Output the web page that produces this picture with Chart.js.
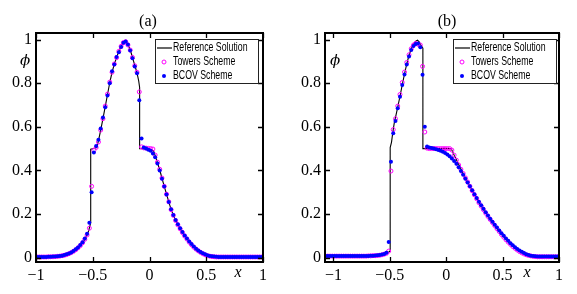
<!DOCTYPE html>
<html><head><meta charset="utf-8">
<script src="https://cdn.jsdelivr.net/npm/chart.js@4/dist/chart.umd.min.js"></script>
<style>
html,body{margin:0;padding:0;background:#fff;}
#wrap{position:relative;width:577px;height:294px;overflow:hidden;}
#ca{position:absolute;left:0;top:0;}
#cb{position:absolute;left:290px;top:0;}
</style></head><body>
<div id="wrap">
<canvas id="ca" width="290" height="294"></canvas>
<canvas id="cb" width="287" height="294"></canvas>
</div>
<script>
// ---------- tick labels / names ----------
const xTickVals = [-1, -0.5, 0, 0.5, 1];
const xTickLabels = ['\u22121', '\u22120.5', '0', '0.5', '1'];
const yTickVals = [0, 0.2, 0.4, 0.6, 0.8, 1];
const yTickLabels = ['0', '0.2', '0.4', '0.6', '0.8', '1'];
const seriesNames = ['Reference Solution', 'Towers Scheme', 'BCOV Scheme'];
const panelTitles = ['(a)', '(b)'];

// ---------- panel (a) ----------
const gridA = [-0.99,-0.97,-0.95,-0.93,-0.91,-0.89,-0.87,-0.85,-0.83,-0.81,-0.79,-0.77,-0.75,-0.73,-0.71,-0.69,-0.67,-0.65,-0.63,-0.61,-0.59,-0.57,-0.55,-0.53,-0.51,-0.49,-0.47,-0.45,-0.43,-0.41,-0.39,-0.37,-0.35,-0.33,-0.31,-0.29,-0.27,-0.25,-0.23,-0.21,-0.19,-0.17,-0.15,-0.13,-0.11,-0.09,-0.07,-0.05,-0.03,-0.01,0.01,0.03,0.05,0.07,0.09,0.11,0.13,0.15,0.17,0.19,0.21,0.23,0.25,0.27,0.29,0.31,0.33,0.35,0.37,0.39,0.41,0.43,0.45,0.47,0.49,0.51,0.53,0.55,0.57,0.59,0.61,0.63,0.65,0.67,0.69,0.71,0.73,0.75,0.77,0.79,0.81,0.83,0.85,0.87,0.89,0.91,0.93,0.95,0.97,0.99];
const towersA = [0.003,0.003,0.003,0.003,0.003,0.004,0.004,0.004,0.005,0.006,0.007,0.009,0.011,0.014,0.018,0.023,0.029,0.036,0.045,0.055,0.068,0.084,0.104,0.135,0.327,0.492,0.505,0.530,0.585,0.637,0.695,0.750,0.805,0.850,0.888,0.917,0.946,0.969,0.986,0.990,0.975,0.952,0.918,0.880,0.850,0.760,0.508,0.503,0.502,0.501,0.500,0.498,0.470,0.438,0.405,0.365,0.327,0.291,0.256,0.220,0.194,0.170,0.150,0.132,0.115,0.099,0.085,0.071,0.059,0.048,0.039,0.031,0.024,0.018,0.013,0.009,0.007,0.005,0.004,0.003,0.003,0.003,0.003,0.003,0.003,0.003,0.003,0.003,0.003,0.003,0.003,0.003,0.003,0.003,0.003,0.003,0.003,0.003,0.003,0.003];
const bcovA = [0.003,0.003,0.003,0.003,0.003,0.004,0.004,0.005,0.005,0.006,0.008,0.009,0.012,0.015,0.019,0.024,0.030,0.038,0.047,0.058,0.071,0.088,0.110,0.160,0.300,0.482,0.512,0.540,0.592,0.642,0.690,0.744,0.800,0.855,0.885,0.920,0.942,0.966,0.985,0.991,0.977,0.950,0.914,0.876,0.845,0.722,0.546,0.505,0.500,0.495,0.490,0.478,0.460,0.432,0.400,0.362,0.326,0.290,0.255,0.222,0.196,0.173,0.153,0.135,0.118,0.102,0.088,0.074,0.062,0.051,0.041,0.033,0.026,0.020,0.015,0.011,0.008,0.006,0.005,0.004,0.003,0.003,0.003,0.003,0.003,0.003,0.003,0.003,0.003,0.003,0.003,0.003,0.003,0.003,0.003,0.003,0.003,0.003,0.003,0.003];
const refAX = [-1,-0.9,-0.85,-0.8,-0.76,-0.72,-0.68,-0.64,-0.6,-0.57,-0.55,-0.535,-0.518,-0.518,-0.49,-0.465,-0.45,-0.43,-0.41,-0.39,-0.37,-0.35,-0.33,-0.31,-0.29,-0.27,-0.25,-0.23,-0.215,-0.2,-0.18,-0.16,-0.14,-0.12,-0.105,-0.095,-0.087,-0.087,-0.05,0,0.035,0.05,0.07,0.09,0.11,0.13,0.15,0.17,0.19,0.21,0.23,0.25,0.27,0.29,0.31,0.33,0.35,0.37,0.39,0.41,0.43,0.45,0.47,0.49,0.51,0.54,0.58,0.65,1];
const refAY = [0.002,0.003,0.004,0.006,0.009,0.015,0.025,0.04,0.061,0.083,0.104,0.125,0.16,0.497,0.5,0.505,0.535,0.585,0.637,0.692,0.748,0.803,0.85,0.887,0.918,0.946,0.969,0.986,0.993,0.988,0.966,0.936,0.9,0.865,0.835,0.81,0.78,0.5,0.5,0.498,0.49,0.468,0.436,0.403,0.364,0.327,0.291,0.256,0.221,0.195,0.171,0.151,0.133,0.116,0.1,0.086,0.072,0.06,0.049,0.04,0.032,0.025,0.019,0.014,0.01,0.006,0.004,0.003,0.002];

// ---------- panel (b) ----------
const gridB = [-1.07,-1.05,-1.03,-1.01,-0.99,-0.97,-0.95,-0.93,-0.91,-0.89,-0.87,-0.85,-0.83,-0.81,-0.79,-0.77,-0.75,-0.73,-0.71,-0.69,-0.67,-0.65,-0.63,-0.61,-0.59,-0.57,-0.55,-0.53,-0.51,-0.49,-0.47,-0.45,-0.43,-0.41,-0.39,-0.37,-0.35,-0.33,-0.31,-0.29,-0.27,-0.25,-0.23,-0.21,-0.19,-0.17,-0.15,-0.13,-0.11,-0.09,-0.07,-0.05,-0.03,-0.01,0.01,0.03,0.05,0.07,0.09,0.11,0.13,0.15,0.17,0.19,0.21,0.23,0.25,0.27,0.29,0.31,0.33,0.35,0.37,0.39,0.41,0.43,0.45,0.47,0.49,0.51,0.53,0.55,0.57,0.59,0.61,0.63,0.65,0.67,0.69,0.71,0.73,0.75,0.77,0.79,0.81,0.83,0.85,0.87,0.89,0.91,0.93,0.95,0.97,0.99];
const towersB = [0.007,0.007,0.007,0.007,0.007,0.007,0.007,0.007,0.007,0.007,0.007,0.007,0.007,0.007,0.007,0.007,0.007,0.007,0.007,0.008,0.008,0.009,0.009,0.010,0.011,0.013,0.016,0.020,0.030,0.397,0.587,0.637,0.695,0.748,0.803,0.851,0.895,0.930,0.958,0.975,0.982,0.978,0.975,0.877,0.576,0.502,0.500,0.500,0.500,0.500,0.500,0.500,0.500,0.500,0.500,0.500,0.493,0.470,0.447,0.425,0.405,0.386,0.366,0.347,0.327,0.307,0.288,0.270,0.252,0.236,0.220,0.204,0.189,0.175,0.161,0.147,0.133,0.120,0.106,0.094,0.082,0.071,0.061,0.051,0.043,0.035,0.028,0.022,0.017,0.013,0.010,0.008,0.006,0.005,0.004,0.004,0.004,0.004,0.004,0.004,0.004,0.004,0.004,0.004];
const bcovB = [0.008,0.008,0.008,0.008,0.008,0.008,0.008,0.008,0.008,0.008,0.008,0.008,0.008,0.008,0.008,0.008,0.008,0.008,0.008,0.008,0.009,0.009,0.010,0.011,0.012,0.014,0.017,0.022,0.072,0.440,0.570,0.627,0.685,0.738,0.792,0.840,0.885,0.922,0.952,0.970,0.980,0.982,0.965,0.839,0.600,0.510,0.505,0.503,0.500,0.497,0.494,0.490,0.486,0.480,0.473,0.465,0.455,0.443,0.430,0.414,0.397,0.380,0.362,0.345,0.327,0.309,0.291,0.273,0.256,0.240,0.224,0.208,0.193,0.178,0.164,0.151,0.138,0.125,0.112,0.100,0.088,0.077,0.066,0.057,0.048,0.040,0.033,0.027,0.021,0.016,0.012,0.009,0.007,0.006,0.005,0.005,0.005,0.005,0.005,0.005,0.005,0.005,0.005,0.005];
const refBX = [-1.075,-0.7,-0.65,-0.6,-0.57,-0.55,-0.53,-0.51,-0.497,-0.497,-0.485,-0.475,-0.46,-0.445,-0.43,-0.41,-0.39,-0.37,-0.35,-0.33,-0.31,-0.29,-0.27,-0.255,-0.24,-0.225,-0.207,-0.207,0.044,0.07,0.1,0.15,0.2,0.25,0.3,0.35,0.4,0.45,0.5,0.55,0.6,0.65,0.7,0.75,0.8,1];
const refBY = [0.008,0.008,0.009,0.011,0.014,0.017,0.021,0.026,0.03,0.505,0.53,0.57,0.62,0.655,0.69,0.74,0.792,0.842,0.888,0.928,0.958,0.98,0.993,0.997,0.99,0.975,0.96,0.5,0.5,0.47,0.438,0.386,0.337,0.29,0.245,0.205,0.168,0.134,0.101,0.072,0.047,0.028,0.015,0.007,0.004,0.004];

const pts = (xs, ys) => xs.map((x, i) => ({x: x, y: ys[i]}));

const framePlugin = {
  id: 'frame',
  afterDraw(chart, args, o) {
    const ctx = chart.ctx, a = chart.chartArea, xs = chart.scales.x, ys = chart.scales.y;
    ctx.save();
    // inward ticks on all sides
    ctx.strokeStyle = '#000'; ctx.lineWidth = 1.3;
    const tl = 5;
    ctx.beginPath();
    xs.ticks.forEach(t => {
      const p = Math.round(xs.getPixelForValue(t.value)) + 0.5;
      ctx.moveTo(p, a.bottom); ctx.lineTo(p, a.bottom - tl);
      ctx.moveTo(p, a.top); ctx.lineTo(p, a.top + tl);
    });
    ys.ticks.forEach(t => {
      const p = Math.round(ys.getPixelForValue(t.value)) + 0.5;
      ctx.moveTo(a.left, p); ctx.lineTo(a.left + tl, p);
      ctx.moveTo(a.right, p); ctx.lineTo(a.right - tl, p);
    });
    ctx.stroke();
    // box
    ctx.lineWidth = 2;
    ctx.strokeRect(a.left, a.top, a.right - a.left, a.bottom - a.top);
    // title
    ctx.fillStyle = '#000';
    ctx.font = '16px "Liberation Serif", serif';
    ctx.textAlign = 'center'; ctx.textBaseline = 'middle';
    ctx.fillText(o.title, o.titleX, 22);
    // axis symbols
    ctx.font = 'italic 15px "DejaVu Serif", serif';
    ctx.fillText('\u03D5', o.phiX, 61);
    ctx.font = 'italic 16px "Liberation Serif", serif';
    ctx.fillText('x', o.xLabX, 273);
    // legend
    const L = o.legend;
    ctx.fillStyle = '#fff';
    ctx.fillRect(L.x, L.y, L.w, L.h);
    ctx.strokeStyle = '#222'; ctx.lineWidth = 1;
    ctx.strokeRect(L.x + 0.5, L.y + 0.5, L.w, L.h);
    const rows = [L.y + 9, L.y + 23, L.y + 37];
    const ds = chart.data.datasets;
    // line sample
    ctx.strokeStyle = ds[0].borderColor; ctx.lineWidth = 1.2;
    ctx.beginPath(); ctx.moveTo(L.x + 2, rows[0]); ctx.lineTo(L.x + 17, rows[0]); ctx.stroke();
    // towers marker
    ctx.strokeStyle = ds[1].borderColor; ctx.lineWidth = 1;
    ctx.beginPath(); ctx.arc(L.x + 9, rows[1], 2, 0, Math.PI * 2); ctx.stroke();
    // bcov marker
    ctx.fillStyle = ds[2].backgroundColor;
    ctx.beginPath(); ctx.arc(L.x + 9, rows[2], 2, 0, Math.PI * 2); ctx.fill();
    // texts (condensed sans)
    ctx.fillStyle = '#000';
    ctx.font = '12px "Liberation Sans", Arial, sans-serif';
    ctx.textAlign = 'left'; ctx.textBaseline = 'middle';
    for (let i = 0; i < 3; i++) {
      ctx.save();
      ctx.translate(L.x + 18, rows[i]);
      ctx.scale(0.73, 1);
      ctx.fillText(ds[i].label, 0, 0);
      ctx.restore();
    }
    ctx.restore();
  }
};

function makeChart(id, gx, tw, bc, rx, ry, xmin, yAxisW, padRight, opts) {
  return new Chart(document.getElementById(id), {
    type: 'scatter',
    data: {
      datasets: [
        {label: seriesNames[0], data: pts(rx, ry), showLine: true, borderColor: '#000', borderWidth: 1.1,
         pointRadius: 0, tension: 0, order: 3},
        {label: seriesNames[1], data: pts(gx, tw), showLine: false, borderColor: '#ff00ff',
         backgroundColor: 'rgba(255,255,255,0)', pointRadius: 2, borderWidth: 1, pointStyle: 'circle', order: 2},
        {label: seriesNames[2], data: pts(gx, bc), showLine: false, borderColor: '#0000ff',
         backgroundColor: '#0000ff', pointRadius: 2, borderWidth: 0, pointStyle: 'circle', order: 1}
      ]
    },
    options: {
      responsive: false, animation: false, devicePixelRatio: 1,
      layout: {padding: {top: 33, right: padRight, left: 0, bottom: 0}},
      plugins: {legend: {display: false}, tooltip: {enabled: false}, title: {display: false}, frame: opts},
      scales: {
        x: {
          type: 'linear', min: xmin, max: 1,
          afterBuildTicks: s => { s.ticks = xTickVals.map(v => ({value: v})); },
          afterFit: s => { s.height = 32; },
          grid: {display: false, drawTicks: false},
          border: {display: false},
          ticks: {autoSkip: false, maxRotation: 0, padding: 4, color: '#000',
                  font: {family: '"Liberation Serif", serif', size: 16},
                  callback: (v, i) => xTickLabels[i]}
        },
        y: {
          type: 'linear', min: -0.02, max: 1.03,
          afterBuildTicks: s => { s.ticks = yTickVals.map(v => ({value: v})); },
          afterFit: s => { s.width = yAxisW; },
          grid: {display: false, drawTicks: false},
          border: {display: false},
          ticks: {autoSkip: false, padding: 4, color: '#000',
                  font: {family: '"Liberation Serif", serif', size: 16},
                  callback: (v, i) => yTickLabels[i]}
        }
      }
    },
    plugins: [framePlugin]
  });
}

makeChart('ca', gridA, towersA, bcovA, refAX, refAY, -1, 36, 27,
  {title: panelTitles[0], titleX: 148, phiX: 25, xLabX: 238, legend: {x: 155, y: 39, w: 103, h: 44}});
makeChart('cb', gridB, towersB, bcovB, refBX, refBY, -1.075, 35, 18,
  {title: panelTitles[1], titleX: 157, phiX: 45, xLabX: 237, legend: {x: 163, y: 39, w: 103, h: 44}});
</script>
</body></html>
